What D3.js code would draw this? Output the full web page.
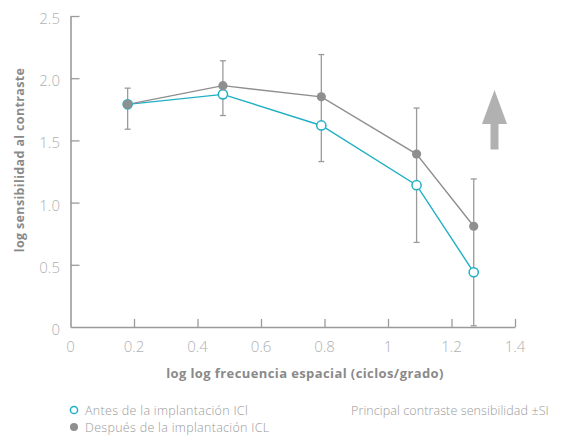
<!DOCTYPE html>
<html>
<head>
<meta charset="utf-8">
<script src="https://cdn.jsdelivr.net/npm/d3@7"></script>
<style>
  html, body { margin: 0; padding: 0; background: #fff; }
  svg { display: block; font-family: "Open Sans", Lato, sans-serif; }
</style>
</head>
<body>
<svg id="chart" width="574" height="437"></svg>
<script>
// Spatial frequency (log) for each measurement
const frequencies = [0.18, 0.48, 0.79, 1.09, 1.27];
// Mean log contrast sensitivity before and after ICL implantation
const before = [1.79, 1.87, 1.62, 1.14, 0.44];
const after = [1.79, 1.94, 1.85, 1.39, 0.81];
// ±SD range at each frequency
const sdLow = [1.59, 1.70, 1.33, 0.68, 0.01];
const sdHigh = [1.92, 2.14, 2.19, 1.76, 1.19];
// Axis ticks
const xTicks = [0, 0.2, 0.4, 0.6, 0.8, 1, 1.2, 1.4];
const xTickLabels = ["0", "0.2", "0.4", "0.6", "0.8", "1", "1.2", "1.4"];
const yTicks = [0, 0.5, 1.0, 1.5, 2.0, 2.5];
const yTickLabels = ["0", "0.5", "1.0", "1.5", "2.0", "2.5"];
// Legend entries
const legendLabels = ["Antes de la implantación ICl", "Después de la implantación ICL"];
const noteLabel = "Principal contraste sensibilidad ±SI";

const svg = d3.select("#chart");
const axisColor = "#9b9b9b";
const tickText = "#b0b0b0";
const grayLine = "#8f8f8f";
const cyan = "#1fb0c4";

const x = d3.scaleLinear().domain([0, 1.4]).range([70.5, 515]);
const y = d3.scaleLinear().domain([0, 2.5]).range([327, 16]);

// Axes
const xAxis = d3.axisBottom(x).tickValues(xTicks.slice(1)).tickSizeInner(-8).tickSizeOuter(0).tickFormat("");
const yAxis = d3.axisLeft(y).tickValues(yTicks.slice(1)).tickSizeInner(-9).tickSizeOuter(0).tickFormat("");

const gx = svg.append("g").attr("transform", `translate(0,${y(0)})`).call(xAxis);
const gy = svg.append("g").attr("transform", `translate(${x(0)},0)`).call(yAxis);
[gx, gy].forEach(g => {
  g.select(".domain").attr("stroke", axisColor).attr("stroke-width", 1.6);
  g.selectAll(".tick line").attr("stroke", axisColor).attr("stroke-width", 1.3);
});

// Tick labels
svg.append("g").selectAll("text").data(xTicks).join("text")
  .attr("x", d => x(d)).attr("y", 352)
  .attr("text-anchor", "middle")
  .attr("fill", tickText).attr("font-size", 15).attr("font-weight", 300)
  .text((d, i) => xTickLabels[i]);

svg.append("g").selectAll("text").data(yTicks).join("text")
  .attr("x", 60).attr("y", d => y(d) + 8)
  .attr("text-anchor", "end")
  .attr("fill", tickText).attr("font-size", 15).attr("font-weight", 300)
  .text((d, i) => yTickLabels[i]);

// Axis titles
svg.append("text")
  .attr("x", 305).attr("y", 378).attr("text-anchor", "middle")
  .attr("fill", "#8a8a8a").attr("font-size", 13).attr("font-weight", 700)
  .attr("letter-spacing", 0.4)
  .text("log log frecuencia espacial (ciclos/grado)");

svg.append("text")
  .attr("transform", "translate(24,160) rotate(-90)")
  .attr("text-anchor", "middle")
  .attr("fill", "#8a8a8a").attr("font-size", 12.5).attr("font-weight", 700)
  .attr("letter-spacing", 0.35)
  .text("log sensibilidad al contraste");

// Error bars (±SD)
const eb = svg.append("g").attr("stroke", "#9a9a9a").attr("stroke-width", 1.3);
frequencies.forEach((f, i) => {
  const cx = x(f);
  eb.append("line").attr("x1", cx).attr("x2", cx).attr("y1", y(sdLow[i])).attr("y2", y(sdHigh[i]));
  eb.append("line").attr("x1", cx - 3).attr("x2", cx + 3).attr("y1", y(sdLow[i])).attr("y2", y(sdLow[i]));
  eb.append("line").attr("x1", cx - 3).attr("x2", cx + 3).attr("y1", y(sdHigh[i])).attr("y2", y(sdHigh[i]));
});

const line = d3.line().x(d => x(d[0])).y(d => y(d[1]));

// Before implantation: cyan line with open circles
svg.append("path")
  .datum(frequencies.map((f, i) => [f, before[i]]))
  .attr("d", line).attr("fill", "none").attr("stroke", cyan).attr("stroke-width", 1.4);

// After implantation: gray line with filled circles
svg.append("path")
  .datum(frequencies.map((f, i) => [f, after[i]]))
  .attr("d", line).attr("fill", "none").attr("stroke", grayLine).attr("stroke-width", 1.4);

svg.append("g").selectAll("circle").data(frequencies).join("circle")
  .attr("cx", d => x(d)).attr("cy", (d, i) => y(before[i])).attr("r", 4.6)
  .attr("fill", "#fff").attr("stroke", cyan).attr("stroke-width", 1.5);

svg.append("g").selectAll("circle").data(frequencies).join("circle")
  .attr("cx", d => x(d)).attr("cy", (d, i) => y(after[i])).attr("r", 4.6)
  .attr("fill", grayLine);

// Upward arrow
svg.append("path")
  .attr("d", "M494.5,90 L507,124 L498.5,124 L498.5,149.5 L490.5,149.5 L490.5,124 L482,124 Z")
  .attr("fill", "#b1b1b1");

// Legend
const legend = svg.append("g");
legend.append("circle").attr("cx", 74).attr("cy", 410).attr("r", 3.6)
  .attr("fill", "#fff").attr("stroke", cyan).attr("stroke-width", 1.5);
legend.append("circle").attr("cx", 74).attr("cy", 427).attr("r", 4)
  .attr("fill", grayLine);
legend.selectAll("text.lg").data(legendLabels).join("text")
  .attr("class", "lg")
  .attr("x", 85).attr("y", (d, i) => 414.5 + i * 17)
  .attr("fill", "#9a9a9a").attr("font-size", 12.5).attr("font-weight", 300)
  .attr("letter-spacing", 0.3)
  .text(d => d);
legend.append("text")
  .attr("x", 351).attr("y", 414.5)
  .attr("fill", "#9a9a9a").attr("font-size", 12.5).attr("font-weight", 300)
  .attr("letter-spacing", 0.1)
  .text(noteLabel);
</script>
</body>
</html>
